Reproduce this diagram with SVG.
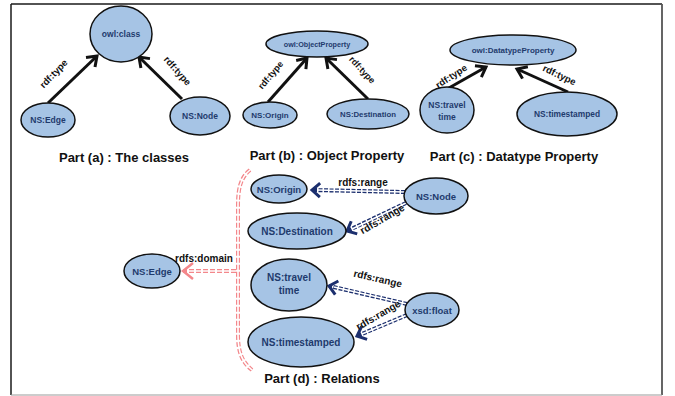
<svg xmlns="http://www.w3.org/2000/svg" width="675" height="396" viewBox="0 0 675 396">
<style>
.nd{fill:#a6c4e5;stroke:#111;stroke-width:1.5}
.nt{font-family:"Liberation Sans",Arial,sans-serif;font-weight:bold;fill:#1f3b6d;text-anchor:middle}
.el{font-family:"Liberation Sans",Arial,sans-serif;font-weight:bold;fill:#111;text-anchor:middle}
.cap{font-family:"Liberation Sans",Arial,sans-serif;font-weight:bold;fill:#111;font-size:13px;text-anchor:middle}
.blk{fill:none;stroke:#111;stroke-width:3}
.bl{fill:none;stroke:#1c2f6e;stroke-width:4;stroke-dasharray:4 1.5}
.rd{fill:none;stroke:#f3878b;stroke-width:4;stroke-dasharray:5 2}
.wh{fill:none;stroke:#fff;stroke-width:1.6}
</style>
<defs>
<marker id="ab" markerUnits="userSpaceOnUse" markerWidth="16" markerHeight="16" viewBox="0 0 16 16" refX="13" refY="8" orient="auto" overflow="visible">
<path d="M4,1.5 L13,8 L4,14.5" fill="none" stroke="#111" stroke-width="3"/>
</marker>
<marker id="ub" markerUnits="userSpaceOnUse" markerWidth="16" markerHeight="16" viewBox="0 0 16 16" refX="13" refY="8" orient="auto" overflow="visible">
<path d="M5,1 L13,8 L5,15" fill="none" stroke="#1c2f6e" stroke-width="3"/>
</marker>
<marker id="ur" markerUnits="userSpaceOnUse" markerWidth="18" markerHeight="18" viewBox="0 0 18 18" refX="15" refY="9" orient="auto" overflow="visible">
<path d="M5,1 L15,9 L5,17" fill="none" stroke="#f3878b" stroke-width="2.5"/>
</marker>
</defs>
<rect x="0" y="0" width="675" height="396" fill="#fff"/>
<g id="frame">
<line x1="11" y1="4" x2="662" y2="4" stroke="#1a1a1a" stroke-width="1.5"/>
<line x1="11" y1="4" x2="11" y2="395" stroke="#1a1a1a" stroke-width="1.5"/>
<line x1="662" y1="4" x2="662" y2="395" stroke="#555" stroke-width="1.8"/>
<line x1="11" y1="395" x2="662" y2="395" stroke="#999" stroke-width="1.2"/>
</g>
<g id="connectors">
<path class="blk" d="M48,103 L97,56" marker-end="url(#ab)"/>
<path class="blk" d="M182,99 L139,57" marker-end="url(#ab)"/>
<path class="blk" d="M268,102 L307,58" marker-end="url(#ab)"/>
<path class="blk" d="M368,99 L326,58" marker-end="url(#ab)"/>
<path class="blk" d="M440,93 L486,67" marker-end="url(#ab)"/>
<path class="blk" d="M568,92 L517,69" marker-end="url(#ab)"/>
<path class="rd" d="M250,170 C240,178 238,190 238,205 L238,335 C238,352 242,362 252,370"/>
<path class="wh" d="M250,170 C240,178 238,190 238,205 L238,335 C238,352 242,362 252,370"/>
<path class="rd" d="M236,271 L183,271" marker-end="url(#ur)"/>
<path class="wh" d="M236,271 L189,271"/>
<path class="bl" d="M405,192 L312,190" marker-end="url(#ub)"/>
<path class="wh" d="M405,192 L317,190"/>
<path class="bl" d="M406,203 L347,231" marker-end="url(#ub)"/>
<path class="wh" d="M406,203 L352,229"/>
<path class="bl" d="M407,304 L329,286" marker-end="url(#ub)"/>
<path class="wh" d="M407,304 L334,287"/>
<path class="bl" d="M407,315 L357,336" marker-end="url(#ub)"/>
<path class="wh" d="M407,315 L362,334"/>
<text class="el" font-size="9.5" transform="translate(56,76) rotate(-46)">rdf:type</text>
<text class="el" font-size="9.5" transform="translate(175,73) rotate(48)">rdf:type</text>
<text class="el" font-size="9" transform="translate(273,77) rotate(-50)">rdf:type</text>
<text class="el" font-size="9" transform="translate(360,72) rotate(47)">rdf:type</text>
<text class="el" font-size="9.5" transform="translate(453,79) rotate(-33)">rdf:type</text>
<text class="el" font-size="9.5" transform="translate(558,78) rotate(25)">rdf:type</text>
<text class="el" font-size="10" x="204" y="262">rdfs:domain</text>
<text class="el" font-size="10" x="363" y="186">rdfs:range</text>
<text class="el" font-size="10" transform="translate(384,222) rotate(-30)">rdfs:range</text>
<text class="el" font-size="10" transform="translate(377,282) rotate(13)">rdfs:range</text>
<text class="el" font-size="10" transform="translate(380,318) rotate(-30)">rdfs:range</text>
</g>
<g id="a_owlclass"><ellipse class="nd" cx="121" cy="34" rx="31" ry="28"/><text class="nt" font-size="8.5" x="121" y="37">owl:class</text></g>
<g id="a_edge"><ellipse class="nd" cx="48" cy="120" rx="27" ry="17"/><text class="nt" font-size="8.5" x="48" y="123">NS:Edge</text></g>
<g id="a_node"><ellipse class="nd" cx="200" cy="116" rx="30" ry="19"/><text class="nt" font-size="8.5" x="200" y="119">NS:Node</text></g>
<g id="b_objprop"><ellipse class="nd" cx="317" cy="44" rx="51" ry="13"/><text class="nt" font-size="7.2" x="317" y="46.5">owl:ObjectProperty</text></g>
<g id="b_origin"><ellipse class="nd" cx="270" cy="115" rx="27" ry="13"/><text class="nt" font-size="8" x="270" y="118">NS:Origin</text></g>
<g id="b_dest"><ellipse class="nd" cx="368" cy="114" rx="41" ry="15"/><text class="nt" font-size="7.8" x="368" y="117">NS:Destination</text></g>
<g id="c_dtprop"><ellipse class="nd" cx="513" cy="50" rx="63" ry="15"/><text class="nt" font-size="8" x="513" y="53">owl:DatatypeProperty</text></g>
<g id="c_travel"><ellipse class="nd" cx="447" cy="110" rx="27" ry="23"/><text class="nt" font-size="8.5" x="447" y="108">NS:travel</text><text class="nt" font-size="8.5" x="447" y="120">time</text></g>
<g id="c_timestamped"><ellipse class="nd" cx="567" cy="114" rx="50" ry="22"/><text class="nt" font-size="8.4" x="567" y="117">NS:timestamped</text></g>
<g id="d_origin"><ellipse class="nd" cx="279" cy="189" rx="28" ry="14"/><text class="nt" font-size="9.5" x="279" y="192.5">NS:Origin</text></g>
<g id="d_dest"><ellipse class="nd" cx="297" cy="231" rx="49" ry="18"/><text class="nt" font-size="10" x="297" y="234.5">NS:Destination</text></g>
<g id="d_travel"><ellipse class="nd" cx="289" cy="285" rx="38" ry="26"/><text class="nt" font-size="10" x="289" y="281">NS:travel</text><text class="nt" font-size="10" x="289" y="294">time</text></g>
<g id="d_timestamped"><ellipse class="nd" cx="301" cy="342" rx="53" ry="25"/><text class="nt" font-size="10" x="301" y="345.5">NS:timestamped</text></g>
<g id="d_edge"><ellipse class="nd" cx="152" cy="271" rx="28" ry="17"/><text class="nt" font-size="9.5" x="152" y="274.5">NS:Edge</text></g>
<g id="d_node"><ellipse class="nd" cx="436" cy="196" rx="32" ry="18"/><text class="nt" font-size="9.5" x="436" y="199.5">NS:Node</text></g>
<g id="d_float"><ellipse class="nd" cx="432" cy="310" rx="27" ry="17"/><text class="nt" font-size="9.5" x="432" y="313.5">xsd:float</text></g>
<g id="captions">
<text class="cap" x="124" y="162">Part (a) : The classes</text>
<text class="cap" x="327" y="160">Part (b) : Object Property</text>
<text class="cap" x="514" y="161">Part (c) : Datatype Property</text>
<text class="cap" x="322" y="383">Part (d) : Relations</text>
</g>
</svg>
